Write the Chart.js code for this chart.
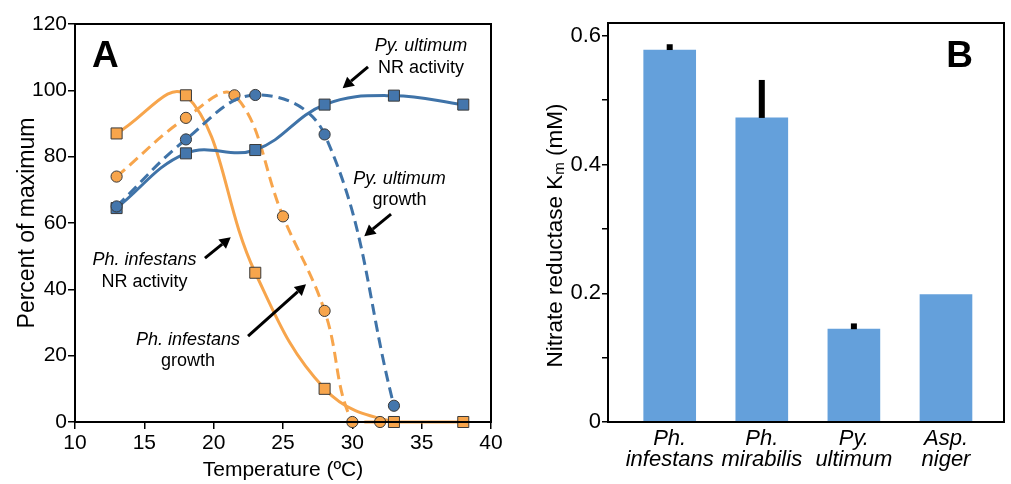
<!DOCTYPE html>
<html><head><meta charset="utf-8">
<script src="https://cdn.jsdelivr.net/npm/chart.js@4"></script>
<style>
html,body{margin:0;padding:0;background:#fff;overflow:hidden;}
#wrapA{position:absolute;left:0;top:0;width:510px;height:484px;}
#wrapB{position:absolute;left:510px;top:0;width:501px;height:484px;}
</style></head><body>
<div id="wrapA"><canvas id="cA"></canvas></div>
<div id="wrapB"><canvas id="cB"></canvas></div>
<script>
// ---------- Panel A data ----------
const phiNrTemp = [13, 18, 23, 28, 33, 38];
const phiNrVal = [87, 98.5, 45, 10, 0, 0];
const phiGrowthTemp = [13, 18, 21.5, 25, 28, 30, 32];
const phiGrowthVal = [74, 91.7, 98.5, 62, 33.5, 0, 0];
const pyuNrTemp = [13, 18, 23, 28, 33, 38];
const pyuNrVal = [64.5, 81, 82, 95.7, 98.4, 95.7];
const pyuGrowthTemp = [13, 18, 23, 28, 33];
const pyuGrowthVal = [65, 85.2, 98.6, 86.7, 4.9];
const xTicksA = [10, 15, 20, 25, 30, 35, 40];
const yTicksA = [0, 20, 40, 60, 80, 100, 120];

// ---------- Panel B data ----------
const species = [["Ph.", "infestans"], ["Ph.", "mirabilis"], ["Py.", "ultimum"], ["Asp.", "niger"]];
const kmValues = [0.578, 0.4725, 0.1442, 0.198];
const kmErrors = [0.009, 0.059, 0.009, 0];
const yTicksB = [0, 0.1, 0.2, 0.3, 0.4, 0.5, 0.6];

const FONT = "'Liberation Sans', Arial, Helvetica, sans-serif";
const ORANGE = '#F7A54C';
const BLUE = '#3F73A8';
const BLUE_FILL = '#4476AC';
const BAR = '#64A0DB';

function pts(xs, ys) { return xs.map((x, i) => ({x: x, y: ys[i]})); }

function lineDs(xs, ys, color, fill, dashed, style) {
  return {
    data: pts(xs, ys),
    borderColor: color,
    borderWidth: 3,
    borderDash: dashed ? [11, 6] : [],
    tension: 0.4,
    pointStyle: style,
    pointRadius: style === 'rect' ? 7.8 : 5.6,
    pointBackgroundColor: fill,
    pointBorderColor: '#3a3a3a',
    pointBorderWidth: 1,
    clip: false,
    fill: false
  };
}

// annotations in data coordinates (center of two-line label), arrows tail->head
const annotationsA = [
  {lines: [["Py. ultimum", true], ["NR activity", false]], x: 34.95, y: 110.0, tail: [31.13, 107.1], head: [29.30, 100.6]},
  {lines: [["Py. ultimum", true], ["growth", false]], x: 33.40, y: 70.06, tail: [32.79, 62.67], head: [30.86, 56.03]},
  {lines: [["Ph. infestans", true], ["NR activity", false]], x: 15.01, y: 45.47, tail: [19.37, 49.39], head: [21.23, 55.73]},
  {lines: [["Ph. infestans", true], ["growth", false]], x: 18.15, y: 21.48, tail: [22.48, 25.86], head: [26.66, 41.55]}
];

function drawArrow(ctx, x1, y1, x2, y2) {
  const ang = Math.atan2(y2 - y1, x2 - x1);
  const hl = 11, hw = 6;
  const bx = x2 - hl * Math.cos(ang), by = y2 - hl * Math.sin(ang);
  ctx.save();
  ctx.strokeStyle = '#000'; ctx.fillStyle = '#000'; ctx.lineWidth = 3;
  ctx.beginPath(); ctx.moveTo(x1, y1); ctx.lineTo(bx, by); ctx.stroke();
  ctx.beginPath();
  ctx.moveTo(x2, y2);
  ctx.lineTo(bx + hw * Math.sin(ang), by - hw * Math.cos(ang));
  ctx.lineTo(bx - hw * Math.sin(ang), by + hw * Math.cos(ang));
  ctx.closePath(); ctx.fill();
  ctx.restore();
}

const frameA = {
  id: 'frameA',
  afterDraw(chart) {
    const {ctx, chartArea: a, scales} = chart;
    ctx.save();
    ctx.strokeStyle = '#000'; ctx.lineWidth = 2;
    ctx.strokeRect(a.left, a.top, a.right - a.left, a.bottom - a.top);
    // panel letter
    ctx.fillStyle = '#000';
    ctx.font = 'bold 37px ' + FONT;
    ctx.textAlign = 'left'; ctx.textBaseline = 'alphabetic';
    ctx.fillText('A', scales.x.getPixelForValue(11.23), scales.y.getPixelForValue(107.0));
    // annotations
    ctx.textAlign = 'center'; ctx.textBaseline = 'middle';
    annotationsA.forEach(an => {
      const cx = scales.x.getPixelForValue(an.x), cy = scales.y.getPixelForValue(an.y);
      an.lines.forEach((ln, k) => {
        ctx.font = (ln[1] ? 'italic ' : '') + '18px ' + FONT;
        ctx.fillText(ln[0], cx, cy + (k - 0.5) * 21.5);
      });
      drawArrow(ctx, scales.x.getPixelForValue(an.tail[0]), scales.y.getPixelForValue(an.tail[1]),
                scales.x.getPixelForValue(an.head[0]), scales.y.getPixelForValue(an.head[1]));
    });
    ctx.restore();
  }
};

new Chart(document.getElementById('cA'), {
  type: 'line',
  data: {
    datasets: [
      lineDs(pyuGrowthTemp, pyuGrowthVal, BLUE, BLUE_FILL, true, 'circle'),
      lineDs(pyuNrTemp, pyuNrVal, BLUE, BLUE_FILL, false, 'rect'),
      lineDs(phiGrowthTemp, phiGrowthVal, ORANGE, ORANGE, true, 'circle'),
      lineDs(phiNrTemp, phiNrVal, ORANGE, ORANGE, false, 'rect')
    ]
  },
  options: {
    responsive: true, maintainAspectRatio: false, animation: false,
    layout: {padding: {left: 0, top: 24, right: 19, bottom: 0}},
    plugins: {legend: {display: false}, tooltip: {enabled: false}},
    scales: {
      x: {
        type: 'linear', min: 10, max: 40,
        afterBuildTicks: ax => { ax.ticks = xTicksA.map(v => ({value: v})); },
        afterFit: s => { s.height = 62; },
        grid: {drawOnChartArea: false, tickLength: 7, color: '#000', tickColor: '#000', lineWidth: 1.5},
        border: {display: true, color: '#000', width: 2},
        ticks: {color: '#000', font: {family: FONT, size: 21}, padding: 2, maxRotation: 0},
        title: {display: true, text: 'Temperature (ºC)', color: '#000', font: {family: FONT, size: 21}, padding: {top: 1.4, bottom: 1.4}}
      },
      y: {
        min: 0, max: 120,
        afterBuildTicks: ax => { ax.ticks = yTicksA.map(v => ({value: v})); },
        afterFit: s => { s.width = 75; },
        grid: {drawOnChartArea: false, tickLength: 7, color: '#000', tickColor: '#000', lineWidth: 1.5},
        border: {display: true, color: '#000', width: 2},
        ticks: {color: '#000', font: {family: FONT, size: 21}, padding: 1},
        title: {display: true, text: 'Percent of maximum', color: '#000', font: {family: FONT, size: 23}, padding: {top: 14, bottom: 14}}
      }
    }
  },
  plugins: [frameA]
});

// ---------- Panel B ----------
const frameB = {
  id: 'frameB',
  afterDatasetsDraw(chart) {
    const {ctx, scales} = chart;
    ctx.save();
    ctx.fillStyle = '#000';
    kmValues.forEach((v, i) => {
      if (!kmErrors[i]) return;
      const x = scales.x.getPixelForValue(i + 1);
      const y1 = scales.y.getPixelForValue(v);
      const y2 = scales.y.getPixelForValue(v + kmErrors[i]);
      ctx.fillRect(x - 3, y2, 6, y1 - y2);
    });
    ctx.restore();
  },
  afterDraw(chart) {
    const {ctx, chartArea: a} = chart;
    ctx.save();
    ctx.strokeStyle = '#000'; ctx.lineWidth = 2;
    ctx.strokeRect(a.left, a.top, a.right - a.left, a.bottom - a.top);
    ctx.fillStyle = '#000';
    ctx.font = 'bold 37px ' + FONT;
    ctx.textAlign = 'right'; ctx.textBaseline = 'alphabetic';
    ctx.fillText('B', a.right - 31, a.top + 44);
    // y title with subscript
    ctx.translate(a.left - 52, (a.top + a.bottom) / 2 + 13);
    ctx.rotate(-Math.PI / 2);
    const big = '22.5px ' + FONT, small = '15px ' + FONT;
    const p1 = 'Nitrate reductase K', p2 = 'm', p3 = ' (mM)';
    ctx.font = big; const w1 = ctx.measureText(p1).width, w3 = ctx.measureText(p3).width;
    ctx.font = small; const w2 = ctx.measureText(p2).width;
    let x0 = -(w1 + w2 + w3) / 2;
    ctx.textAlign = 'left'; ctx.textBaseline = 'middle';
    ctx.font = big; ctx.fillText(p1, x0, 0);
    ctx.font = small; ctx.fillText(p2, x0 + w1, 4);
    ctx.font = big; ctx.fillText(p3, x0 + w1 + w2, 0);
    ctx.restore();
  }
};

new Chart(document.getElementById('cB'), {
  type: 'bar',
  data: {
    datasets: [{
      data: kmValues.map((v, i) => ({x: i + 1, y: v})),
      backgroundColor: BAR,
      borderWidth: 0,
      barThickness: 52
    }]
  },
  options: {
    responsive: true, maintainAspectRatio: false, animation: false,
    layout: {padding: {left: 0, top: 23, right: 7, bottom: 0}},
    plugins: {legend: {display: false}, tooltip: {enabled: false}},
    scales: {
      x: {
        type: 'linear', min: 0.33, max: 4.63, offset: false,
        afterBuildTicks: ax => { ax.ticks = species.map((s, i) => ({value: i + 1})); },
        afterFit: s => { s.height = 62; },
        grid: {display: false, drawTicks: false},
        border: {display: true, color: '#000', width: 2},
        ticks: {
          color: '#000', font: {family: FONT, size: 22, style: 'italic', lineHeight: 0.98}, padding: 6, maxRotation: 0, autoSkip: false,
          callback: v => species[Math.round(v) - 1] || ''
        }
      },
      y: {
        min: 0, max: 0.62,
        afterBuildTicks: ax => { ax.ticks = yTicksB.map(v => ({value: v})); },
        afterFit: s => { s.width = 98; },
        grid: {drawOnChartArea: false, tickLength: 6, color: '#000', tickColor: '#000', lineWidth: 1.5},
        border: {display: true, color: '#000', width: 2},
        ticks: {
          color: '#000', font: {family: FONT, size: 22}, padding: 1,
          callback: v => (Math.round(v * 10) % 2 === 0) ? (v === 0 ? '0' : v.toFixed(1)) : ''
        }
      }
    }
  },
  plugins: [frameB]
});
</script>
</body></html>
